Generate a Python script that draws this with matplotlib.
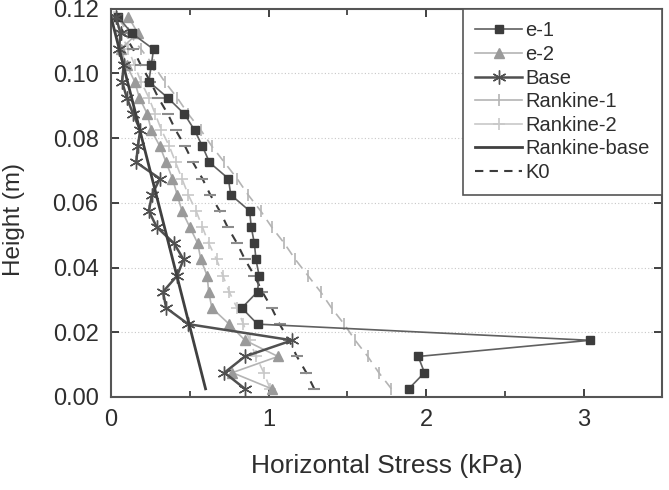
import matplotlib
matplotlib.use("Agg")
import matplotlib.pyplot as plt
from matplotlib.ticker import MultipleLocator
from matplotlib.lines import Line2D

plt.rcParams['font.family'] = ['Liberation Sans', 'DejaVu Sans']

heights = [0.0025, 0.0075, 0.0125, 0.0175, 0.0225, 0.0275, 0.0325, 0.0375,
           0.0425, 0.0475, 0.0525, 0.0575, 0.0625, 0.0675, 0.0725, 0.0775,
           0.0825, 0.0875, 0.0925, 0.0975, 0.1025, 0.1075, 0.1125, 0.1175]

e1 = [1.89, 1.99, 1.95, 3.04, 0.93, 0.83, 0.93, 0.94,
      0.92, 0.91, 0.89, 0.88, 0.76, 0.745, 0.625, 0.58,
      0.53, 0.465, 0.36, 0.24, 0.255, 0.27, 0.13, 0.045]
e2 = [1.02, 0.77, 1.06, 0.85, 0.75, 0.64, 0.62, 0.61,
      0.57, 0.55, 0.50, 0.45, 0.42, 0.39, 0.35, 0.31,
      0.255, 0.23, 0.18, 0.15, 0.10, 0.06, 0.17, 0.11]
base = [0.85, 0.72, 0.85, 1.15, 0.49, 0.35, 0.33, 0.42,
        0.46, 0.40, 0.29, 0.24, 0.26, 0.31, 0.16, 0.17,
        0.185, 0.14, 0.10, 0.07, 0.08, 0.05, 0.06, 0.03]
rankine1 = [1.78, 1.70, 1.63, 1.55, 1.48, 1.40, 1.33, 1.25,
            1.17, 1.10, 1.02, 0.95, 0.87, 0.80, 0.72, 0.64,
            0.57, 0.49, 0.42, 0.34, 0.27, 0.19, 0.11, 0.04]
rankine2 = [1.01, 0.97, 0.92, 0.88, 0.84, 0.80, 0.75, 0.71,
            0.67, 0.62, 0.58, 0.54, 0.49, 0.45, 0.41, 0.37,
            0.32, 0.28, 0.24, 0.19, 0.15, 0.11, 0.06, 0.02]
k0 = [1.29, 1.24, 1.18, 1.13, 1.07, 1.02, 0.96, 0.91,
      0.85, 0.80, 0.74, 0.69, 0.63, 0.58, 0.52, 0.47,
      0.41, 0.36, 0.30, 0.25, 0.19, 0.14, 0.08, 0.03]
rankine_base_x = [0.60, 0.0]
rankine_base_h = [0.0025, 0.1175]

fig = plt.figure(figsize=(6.69, 4.90), dpi=100)
ax = fig.add_axes([0.166, 0.190, 0.824, 0.792])

c_dark = '#3c3c3c'
c_mid = '#8c8c8c'
c_light = '#b4b4b4'
c_lighter = '#c8c8c8'
txt = '#2e2e2e'

ax.plot(rankine1, heights, color=c_light, lw=1.2, ls=(0, (6, 4)),
        marker='|', ms=8, mew=1.2, zorder=2)
ax.plot(rankine2, heights, color=c_lighter, lw=1.2, ls=(0, (6, 4)),
        marker='+', ms=9, mew=1.2, zorder=2)
ax.plot(k0, heights, color=c_dark, lw=1.5, ls=(0, (4, 4)),
        marker='_', ms=8, mew=1.5, mec=c_mid, zorder=3)
ax.plot(e2, heights, color=c_light, lw=1.2, marker='^', ms=7,
        mfc='#9a9a9a', mec='#9a9a9a', zorder=4)
ax.plot(e1, heights, color='#606060', lw=1.2, marker='s', ms=6,
        mfc=c_dark, mec=c_dark, zorder=5)
ax.plot(base, heights, color='#505050', lw=1.8, marker=(6, 2, 0), ms=10,
        mec='#505050', mew=1.0, zorder=6)
ax.plot(rankine_base_x, rankine_base_h, color='#404040', lw=2.0, zorder=6)

ax.set_xlim(0, 3.5)
ax.set_ylim(0, 0.12)
ax.xaxis.set_major_locator(MultipleLocator(1))
ax.xaxis.set_minor_locator(MultipleLocator(0.5))
ax.yaxis.set_major_locator(MultipleLocator(0.02))
ax.set_yticklabels([f'{v:.2f}' for v in ax.get_yticks()])
ax.tick_params(direction='in', length=6, width=1.3, labelsize=17,
               colors='#333333', labelcolor=txt, pad=9)
ax.tick_params(which='minor', direction='in', length=4, width=1.2, colors='#333333')
ax.tick_params(axis='x', top=True, which='both')
ax.tick_params(axis='y', right=True)
for s in ax.spines.values():
    s.set_color('#555555')
    s.set_linewidth(1.5)

for yv in [0.02, 0.04, 0.06, 0.08, 0.10]:
    ax.axhline(yv, color='#c8c8c8', lw=0.8, ls=(0, (1, 2)), zorder=1)

ax.set_xlabel('Horizontal Stress (kPa)', fontsize=19, color=txt, labelpad=16)
ax.set_ylabel('Height (m)', fontsize=17.5, color=txt)
ax.yaxis.set_label_coords(-0.157, 0.456)

handles = [
    Line2D([], [], color='#606060', lw=1.2, marker='s', ms=6, mfc=c_dark, mec=c_dark),
    Line2D([], [], color=c_light, lw=1.2, marker='^', ms=7, mfc='#9a9a9a', mec='#9a9a9a'),
    Line2D([], [], color='#505050', lw=1.8, marker=(6, 2, 0), ms=10, mec='#505050'),
    Line2D([], [], color=c_light, lw=1.2, marker='|', ms=8, mew=1.2),
    Line2D([], [], color=c_lighter, lw=1.2, marker='+', ms=9, mew=1.2),
    Line2D([], [], color='#404040', lw=2.0),
    Line2D([], [], color=c_dark, lw=1.5, ls=(0, (4, 3))),
]
labels = ['e-1', 'e-2', 'Base', 'Rankine-1', 'Rankine-2', 'Rankine-base', 'K0']
leg = ax.legend(handles, labels, loc='upper right', bbox_to_anchor=(1.0, 1.0),
                fontsize=14.5, frameon=True, fancybox=False, framealpha=1,
                edgecolor='#555555', handlelength=2.35, handletextpad=0.15,
                labelspacing=0.23, borderpad=0.62, borderaxespad=0)
leg.get_frame().set_linewidth(1.2)
for t in leg.get_texts():
    t.set_color(txt)

fig.savefig('out.png', dpi=100)
